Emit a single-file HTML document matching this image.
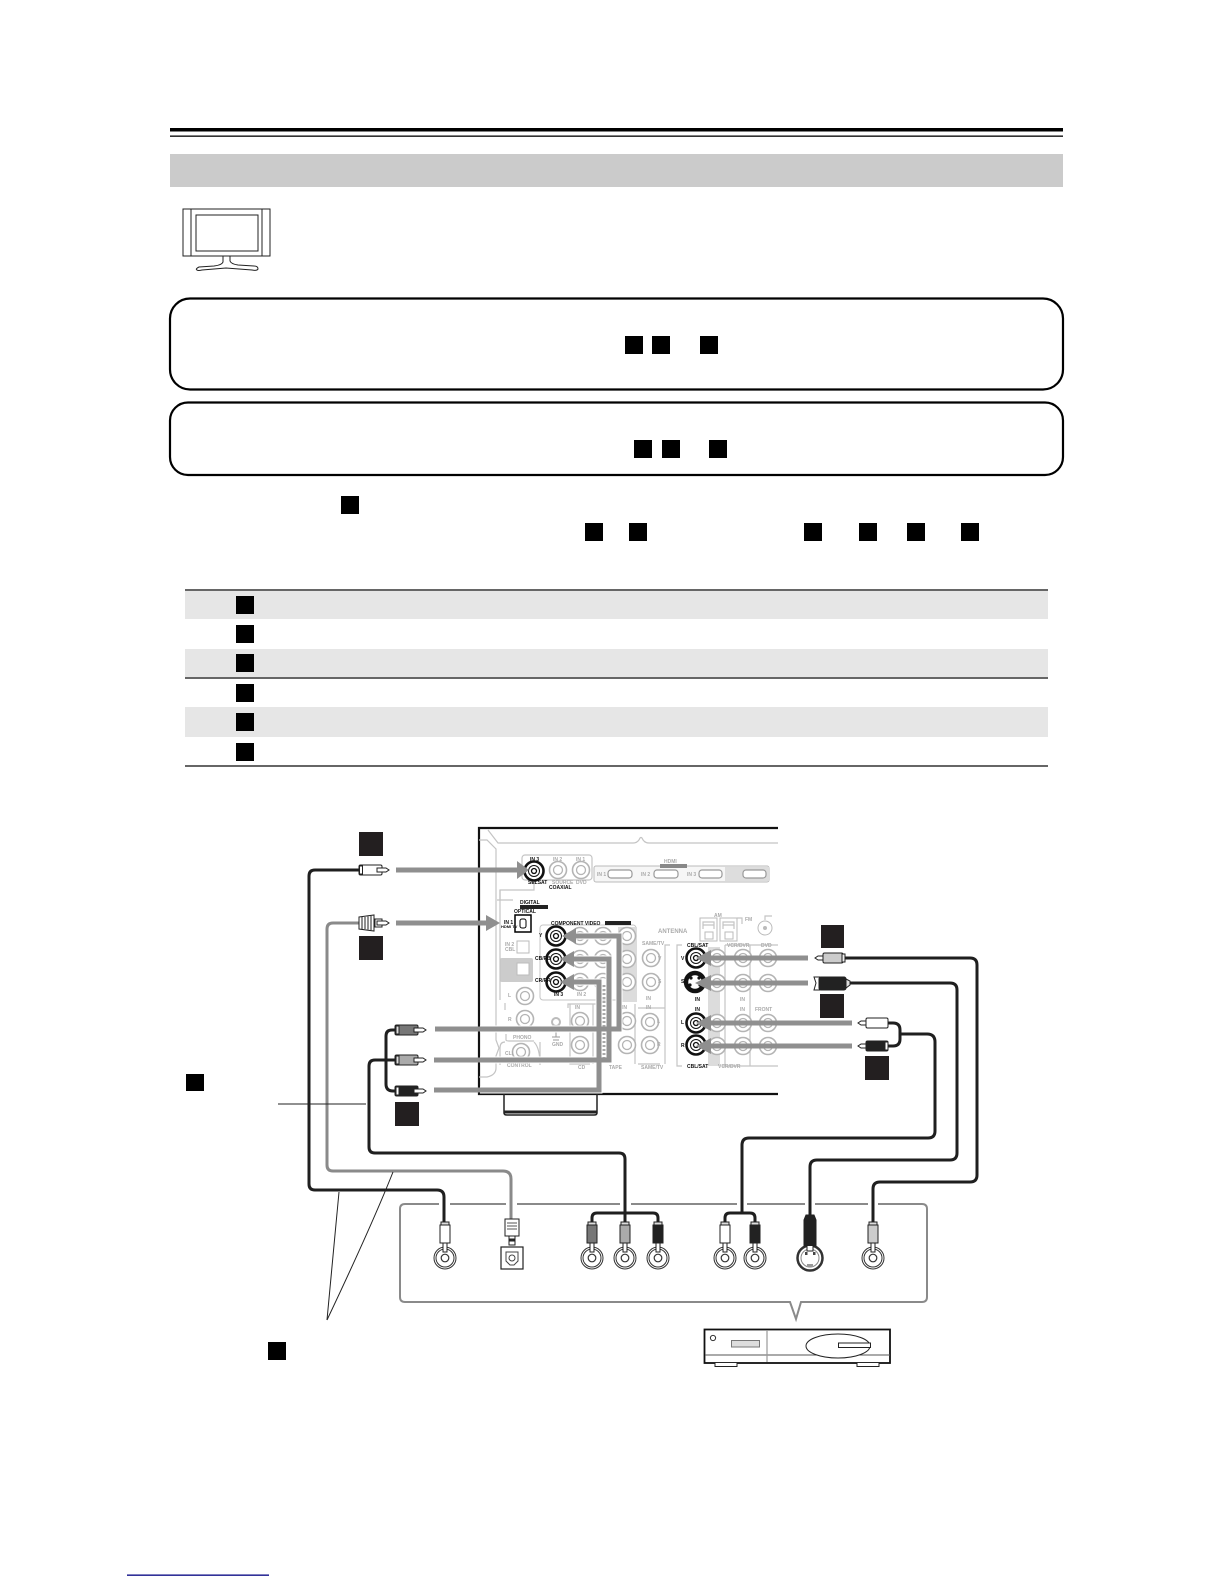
<!DOCTYPE html>
<html lang="en">
<head>
<meta charset="utf-8">
<title>Connection diagram</title>
<style>
html,body{margin:0;padding:0;background:#fff;width:1224px;height:1584px;overflow:hidden}
svg{display:block}
text{font-family:"Liberation Sans",sans-serif}
.l{font-size:5px;fill:#aaa;font-weight:bold}
.b{font-size:5px;fill:#111;font-weight:bold}
.c{fill:none;stroke:#1f1f1f;stroke-width:3}
.g{fill:none;stroke:#8a8a8a;stroke-width:3}
.a{fill:none;stroke:#8f8f8f;stroke-width:5}
.p{fill:none;stroke:#c4c4c4;stroke-width:1.2}
</style>
</head>
<body>
<svg width="1224" height="1584" viewBox="0 0 1224 1584" xmlns="http://www.w3.org/2000/svg">
<defs>
  <g id="gj"><circle r="8.500" fill="#fff" stroke="#b4b4b4" stroke-width="1.600"/><circle r="4.500" fill="none" stroke="#b4b4b4" stroke-width="1.300"/></g>
  <g id="bj"><circle r="9.500" fill="#fff" stroke="#111" stroke-width="2.600"/><circle r="5.500" fill="none" stroke="#111" stroke-width="1"/><circle r="2.500" fill="#fff" stroke="#111" stroke-width="1.300"/></g>
  <g id="dj"><circle r="11" fill="#fff" stroke="#333" stroke-width="1"/><circle r="9" fill="#fff" stroke="#333" stroke-width="1"/><circle r="3.800" fill="#fff" stroke="#333" stroke-width="1.200"/></g>
  <g id="tip"><path d="M0,-2 H9 L12,0 L9,2 H0 Z" fill="#fff" stroke="#222" stroke-width="1"/></g>
</defs>

<!-- header -->
<rect x="170" y="128" width="893" height="3.500" fill="#000"/>
<rect x="170" y="135.500" width="893" height="1.300" fill="#000"/>
<rect x="170" y="154" width="893" height="33" fill="#cbcbcb"/>

<!-- TV -->
<g fill="none" stroke="#222" stroke-width="1">
  <rect x="183" y="209" width="87" height="47"/>
  <path d="M191,209V256M262,209V256"/>
  <rect x="196" y="215" width="62" height="36"/>
  <path d="M223,256 V262 Q222,265 214,266 L199,267 Q195,269 197,270 Q198,271 202,270 L226,268 L252,270 Q257,271 258,269 Q258,266 254,266 L238,265 Q231,264 230,261 V256"/>
</g>

<!-- rounded boxes -->
<rect x="170" y="298.500" width="893" height="91" rx="20" fill="#fff" stroke="#000" stroke-width="2.200"/>
<rect x="170" y="402.500" width="893" height="72.500" rx="18" fill="#fff" stroke="#000" stroke-width="2.200"/>
<g fill="#000">
  <rect x="625" y="336" width="18" height="18"/><rect x="652" y="336" width="18" height="18"/><rect x="700" y="336" width="18" height="18"/>
  <rect x="634" y="440" width="18" height="18"/><rect x="662" y="440" width="18" height="18"/><rect x="709" y="440" width="18" height="18"/>
  <rect x="341" y="496" width="18" height="18"/>
  <rect x="585" y="523" width="18" height="18"/><rect x="629" y="523" width="18" height="18"/><rect x="804" y="523" width="18" height="18"/>
  <rect x="859" y="523" width="18" height="18"/><rect x="907" y="523" width="18" height="18"/><rect x="961" y="523" width="18" height="18"/>
</g>

<!-- table -->
<rect x="185" y="591" width="863" height="28" fill="#e6e6e6"/>
<rect x="185" y="649" width="863" height="28" fill="#e6e6e6"/>
<rect x="185" y="707" width="863" height="30" fill="#e6e6e6"/>
<rect x="185" y="589" width="863" height="2" fill="#666"/>
<rect x="185" y="677" width="863" height="2" fill="#666"/>
<rect x="185" y="765" width="863" height="2" fill="#666"/>
<g fill="#000">
  <rect x="236" y="596" width="18" height="18"/><rect x="236" y="625" width="18" height="18"/><rect x="236" y="654" width="18" height="18"/>
  <rect x="236" y="684" width="18" height="18"/><rect x="236" y="713" width="18" height="18"/><rect x="236" y="743" width="18" height="18"/>
</g>

<!-- receiver frame -->
<path d="M778,828 H479 V1094 H778" fill="none" stroke="#111" stroke-width="2.200"/>
<path d="M504,1094 V1113 Q504,1115 507,1115 H594 Q597,1115 597,1113 V1094" fill="none" stroke="#222" stroke-width="1.500"/>
<path d="M504,1112 H597" stroke="#222" stroke-width="3"/>

<!-- panel outlines -->
<path class="p" d="M488,830 L498,843 H633 Q638,843 640,838 Q641,837 642,838 Q644,843 649,843 H778"/>
<path class="p" d="M479,840 H487 L496,849 V1040 L499,1048 L496,1056 V1068 Q496,1075 487,1077 H479"/>
<rect class="p" x="522" y="855" width="70" height="25" rx="3"/>
<path class="p" d="M500,900 V890 H534 V880"/>
<rect x="594" y="866" width="175" height="16" rx="2" fill="#f6f6f6" stroke="#bbb"/>
<rect x="725" y="867" width="44" height="14" fill="#ddd"/>
<g fill="#fff" stroke="#999" stroke-width="1.200">
  <rect x="608" y="870" width="24" height="8" rx="3"/><rect x="654" y="870" width="24" height="8" rx="3"/>
  <rect x="699" y="870" width="23" height="8" rx="3"/><rect x="743" y="870" width="23" height="8" rx="3"/>
</g>
<rect x="660" y="864" width="27" height="4" fill="#888"/>
<text class="l" x="664" y="863">HDMI</text>
<text class="l" x="597" y="876">IN 1</text><text class="l" x="641" y="876">IN 2</text><text class="l" x="687" y="876">IN 3</text>
<rect x="540" y="925" width="96" height="75" rx="3" fill="none" stroke="#c4c4c4"/>
<rect x="618" y="927" width="19" height="75" fill="#dcdcdc"/>
<rect x="500" y="958" width="33" height="24" rx="2" fill="#ccc"/>
<rect x="708" y="947" width="12" height="119" fill="#dcdcdc"/>
<path class="p" d="M497,900 H513 M500,890 V1000"/>
<path class="p" d="M505,1003 V1010 M506,1034 V1040 Q506,1041 510,1041 H534 M505,1042 Q500,1042 500,1048 V1065 M540,1042 V1065 Q540,1048 534,1042"/>
<path class="p" d="M568,1008 V1004 H600 M570,1004 V1064 H590 M593,1004 V1064 M635,1004 V1064 M638,1008 H665 M638,1064 H660 M670,945 H665 V1064"/>
<path class="p" d="M682,945 H677 V1066 H682 M725,945 H770 M725,945 V1066 M750,945 V1066 M778,945 H770 M722,1066 H778"/>
<rect x="700" y="918" width="17" height="23" fill="none" stroke="#bbb"/>
<rect x="720" y="918" width="17" height="23" fill="none" stroke="#bbb"/>
<rect x="705" y="932" width="8" height="7" fill="none" stroke="#bbb"/><rect x="725" y="932" width="8" height="7" fill="none" stroke="#bbb"/>
<path class="p" d="M703,929 V922 H714 V929 M723,929 V922 H734 V929 M703,925 H714 M723,925 H734 M737,918 H742 V924"/>
<path class="p" d="M765,920 V916 H772"/>
<circle cx="765" cy="928" r="7" fill="#fff" stroke="#bbb"/><circle cx="765" cy="928" r="2" fill="#bbb"/>

<!-- gray jacks -->
<g>
  <use href="#gj" x="558" y="870"/><use href="#gj" x="581" y="870"/>
  <use href="#gj" x="580" y="936"/><use href="#gj" x="603" y="936"/><use href="#gj" x="627" y="936"/>
  <use href="#gj" x="580" y="959"/><use href="#gj" x="603" y="959"/><use href="#gj" x="627" y="959"/>
  <use href="#gj" x="580" y="982"/><use href="#gj" x="603" y="982"/><use href="#gj" x="627" y="982"/>
  <use href="#gj" x="651" y="958"/><use href="#gj" x="651" y="982"/>
  <use href="#gj" x="525" y="996"/><use href="#gj" x="525" y="1019"/><use href="#gj" x="521" y="1052"/>
  <use href="#gj" x="580" y="1021"/><use href="#gj" x="580" y="1045"/>
  <use href="#gj" x="627" y="1021"/><use href="#gj" x="627" y="1045"/>
  <use href="#gj" x="650" y="1022"/><use href="#gj" x="650" y="1045"/>
  <use href="#gj" x="717" y="958"/><use href="#gj" x="743" y="958"/><use href="#gj" x="768" y="958"/>
  <use href="#gj" x="717" y="983"/><use href="#gj" x="743" y="983"/><use href="#gj" x="768" y="983"/>
  <use href="#gj" x="717" y="1023"/><use href="#gj" x="743" y="1023"/><use href="#gj" x="768" y="1023"/>
  <use href="#gj" x="717" y="1046"/><use href="#gj" x="743" y="1046"/><use href="#gj" x="768" y="1046"/>
</g>
<circle cx="556" cy="1022" r="4" fill="none" stroke="#bbb" stroke-width="2"/>
<path d="M552,1037 H560 M556,1032 V1037 M553,1040 H559" stroke="#999" fill="none"/>
<g fill="#fff" stroke="#bbb"><rect x="517" y="941" width="12" height="12"/><rect x="517" y="963" width="12" height="12"/></g>

<!-- black jacks -->
<use href="#bj" x="534" y="871"/>
<use href="#bj" x="556" y="936"/><use href="#bj" x="556" y="959"/><use href="#bj" x="556" y="982"/>
<use href="#bj" x="696" y="958"/><use href="#bj" x="696" y="1023"/><use href="#bj" x="696" y="1045"/>
<circle cx="695" cy="982" r="9" fill="#fff" stroke="#111" stroke-width="4.500"/>
<circle cx="691" cy="978" r="1.600" fill="#111"/><circle cx="699" cy="978" r="1.600" fill="#111"/>
<circle cx="690" cy="985" r="1.600" fill="#111"/><circle cx="700" cy="985" r="1.600" fill="#111"/>
<rect x="515" y="915" width="16" height="17" fill="#fff" stroke="#000" stroke-width="1.500"/>
<rect x="520" y="919" width="6" height="9" rx="2" fill="none" stroke="#000"/>

<!-- panel labels -->
<text class="b" x="530" y="861">IN 3</text>
<text class="l" x="553" y="861">IN 2</text><text class="l" x="576" y="861">IN 1</text>
<text class="b" x="528" y="884">SELSAT</text><text class="l" x="552" y="884">SOURCE</text><text class="l" x="576" y="884">DVD</text>
<text class="b" x="549" y="889">COAXIAL</text>
<text class="b" x="520" y="904">DIGITAL</text>
<rect x="520" y="905" width="28" height="4" fill="#222"/>
<text class="b" x="514" y="913">OPTICAL</text>
<text class="b" x="504" y="924">IN 1</text>
<text class="b" x="501" y="928" style="font-size:4px">HDMI TV</text>
<text class="l" x="505" y="946">IN 2</text><text class="l" x="505" y="951">CBL</text>
<text class="b" x="551" y="925">COMPONENT VIDEO</text>
<rect x="605" y="921" width="26" height="4" fill="#222"/>
<text class="b" x="539" y="937">Y</text><text class="b" x="535" y="960">CB/PB</text><text class="b" x="535" y="982">CR/PR</text>
<text class="b" x="554" y="996">IN 3</text><text class="l" x="577" y="996">IN 2</text>
<text class="l" x="642" y="945">SAME/TV</text><text class="l" x="658" y="960">V</text><text class="l" x="658" y="983">S</text><text class="l" x="646" y="1000">IN</text>
<text class="l" x="657" y="1023">L</text><text class="l" x="657" y="1046">R</text>
<text class="l" x="508" y="997">L</text><text class="l" x="508" y="1021">R</text>
<text class="l" x="513" y="1039">PHONO</text><text class="l" x="505" y="1055">CLI</text>
<text class="l" x="507" y="1067">CONTROL</text><text class="l" x="552" y="1046">GND</text>
<text class="l" x="575" y="1009">IN</text><text class="l" x="622" y="1009">IN</text><text class="l" x="646" y="1009">IN</text>
<text class="l" x="578" y="1069">CD</text><text class="l" x="609" y="1069">TAPE</text><text class="l" x="641" y="1069">SAME/TV</text>
<text class="l" x="658" y="933" style="font-size:6px">ANTENNA</text>
<text class="l" x="714" y="917">AM</text><text class="l" x="745" y="921">FM</text>
<text class="b" x="687" y="947">CBL/SAT</text>
<text class="l" x="727" y="947">VCR/DVR</text><text class="l" x="761" y="947">DVD</text>
<text class="b" x="681" y="960">V</text><text class="b" x="681" y="983">S</text><text class="b" x="681" y="1024">L</text><text class="b" x="681" y="1047">R</text>
<text class="b" x="695" y="1001">IN</text><text class="b" x="695" y="1011">IN</text>
<text class="l" x="740" y="1001">IN</text><text class="l" x="740" y="1011">IN</text><text class="l" x="755" y="1011">FRONT</text>
<text class="b" x="687" y="1068">CBL/SAT</text><text class="l" x="718" y="1068">VCR/DVR</text>

<!-- gray arrows with white halo -->
<g fill="none" stroke="#fff" stroke-width="7">
  <path d="M575,936 H619 V1029 H480"/><path d="M573,959 H609 V1060 H480"/><path d="M573,982 H599 V1090 H480"/>
</g>
<path d="M604,985 V1058" stroke="#a8a8a8" stroke-width="3" stroke-dasharray="2 2" fill="none"/>
<g class="a">
  <path class="a" d="M396,870 H518"/>
  <path class="a" d="M396,923 H487"/>
  <path class="a" d="M435,1029 H619 V936 H574"/>
  <path class="a" d="M434,1060 H609 V959 H572"/>
  <path class="a" d="M434,1090 H599 V982 H572"/>
  <path class="a" d="M808,958 H709"/>
  <path class="a" d="M808,983 H709"/>
  <path class="a" d="M852,1023 H709"/>
  <path class="a" d="M852,1046 H709"/>
</g>
<g fill="#8f8f8f">
  <path d="M517,861 L529,870 L517,879Z"/>
  <path d="M486,915 L500,923 L486,931Z"/>
  <path d="M576,928 L562,936 L576,944Z"/><path d="M574,951 L560,959 L574,967Z"/><path d="M574,974 L560,982 L574,990Z"/>
  <path d="M711,950 L696,958 L711,966Z"/><path d="M711,975 L695,983 L711,991Z"/>
  <path d="M711,1015 L696,1023 L711,1031Z"/><path d="M711,1038 L696,1046 L711,1054Z"/>
</g>

<!-- cables -->
<path class="c" d="M359,870 H315 Q309,870 309,876 V1184 Q309,1190 315,1190 H437 Q444,1190 444,1197 V1223"/>
<path class="g" d="M359,923 H333 Q327,923 327,929 V1165 Q327,1171 333,1171 H503 Q511,1171 511,1179 V1219"/>
<path class="c" d="M395,1030 H392 Q386,1030 386,1036 V1084 Q386,1091 393,1091 H395"/>
<path class="c" d="M395,1060 H375 Q369,1060 369,1066 V1147 Q369,1153 375,1153 H619 Q625,1153 625,1159 V1222"/>
<path class="c" d="M845,958 H970 Q977,958 977,965 V1175 Q977,1182 970,1182 H880 Q873,1182 873,1189 V1222"/>
<path class="c" d="M850,983 H950 Q957,983 957,990 V1153 Q957,1160 950,1160 H817 Q810,1160 810,1167 V1215"/>
<path class="c" d="M888,1023 H893 Q900,1023 900,1030 V1039 Q900,1046 893,1046 H888"/>
<path class="c" d="M900,1034 H927 Q935,1034 935,1042 V1131 Q935,1138 928,1138 H749 Q742,1138 742,1145 V1212"/>

<!-- callout frame -->
<path d="M405,1204 H922 Q927,1204 927,1209 V1297 Q927,1302 922,1302 H801 L796,1319 L790,1302 H405 Q400,1302 400,1297 V1209 Q400,1204 405,1204Z" fill="none" stroke="#8a8a8a" stroke-width="2"/>
<g fill="#fff">
  <rect x="439" y="1203" width="11" height="3"/><rect x="506" y="1203" width="11" height="3"/><rect x="620" y="1203" width="11" height="3"/>
  <rect x="737" y="1203" width="10" height="3"/><rect x="805" y="1203" width="10" height="3"/><rect x="868" y="1203" width="10" height="3"/>
</g>
<path class="c" d="M444,1197 V1223"/><path class="g" d="M511,1196 V1219"/><path class="c" d="M625,1190 V1222"/>
<path class="c" d="M742,1190 V1212"/><path class="c" d="M810,1190 V1215"/><path class="c" d="M873,1190 V1222"/>
<path class="c" d="M592,1222 V1218 Q592,1213 597,1213 H653 Q658,1213 658,1218 V1222"/>
<path class="c" d="M725,1222 V1218 Q725,1213 730,1213 H750 Q755,1213 755,1218 V1222"/>

<!-- thin leader lines -->
<path d="M278,1104 H366" stroke="#222" stroke-width="1" fill="none"/>
<path d="M339,1192 L327,1320" stroke="#222" stroke-width="1" fill="none"/>
<path d="M393,1172 Q372,1225 327,1320" stroke="#222" stroke-width="1" fill="none"/>

<!-- bottom device jacks -->
<use href="#dj" x="445" y="1258"/><use href="#dj" x="592" y="1258"/><use href="#dj" x="625" y="1258"/><use href="#dj" x="658" y="1258"/>
<use href="#dj" x="725" y="1258"/><use href="#dj" x="755" y="1258"/><use href="#dj" x="873" y="1258"/>
<circle cx="810" cy="1258" r="12.500" fill="#fff" stroke="#333" stroke-width="2.500"/>
<circle cx="810" cy="1258" r="9" fill="none" stroke="#888"/>
<rect x="805" y="1252" width="2.500" height="3" fill="#444"/><rect x="813" y="1252" width="2.500" height="3" fill="#444"/>
<rect x="807" y="1264" width="6" height="3" fill="#999"/>
<rect x="501" y="1247" width="22" height="22" fill="#fff" stroke="#222" stroke-width="1.200"/>
<path d="M506,1252 H518 V1261 L514,1265 H510 L506,1261Z" fill="#fff" stroke="#444"/>
<circle cx="512" cy="1258" r="3" fill="#fff" stroke="#444"/>

<!-- bottom plugs -->
<g stroke="#222" stroke-width="1">
  <g fill="#fff"><path d="M443,1243 H447 V1252 H443Z M590,1243 H594 V1252 H590Z M623,1243 H627 V1252 H623Z M656,1243 H660 V1252 H656Z M723,1243 H727 V1252 H723Z M753,1243 H757 V1252 H753Z M871,1243 H875 V1252 H871Z"/></g>
  <rect x="440" y="1225" width="10" height="18" fill="#fff"/>
  <rect x="587" y="1225" width="10" height="18" fill="#777"/>
  <rect x="620" y="1225" width="10" height="18" fill="#aaa"/>
  <rect x="653" y="1225" width="10" height="18" fill="#222"/>
  <rect x="720" y="1225" width="10" height="18" fill="#fff"/>
  <rect x="750" y="1225" width="10" height="18" fill="#222"/>
  <rect x="868" y="1225" width="10" height="18" fill="#ccc"/>
  <g fill="#ddd"><rect x="441" y="1222" width="8" height="3"/><rect x="588" y="1222" width="8" height="3"/><rect x="621" y="1222" width="8" height="3"/><rect x="654" y="1222" width="8" height="3"/><rect x="721" y="1222" width="8" height="3"/><rect x="751" y="1222" width="8" height="3"/><rect x="869" y="1222" width="8" height="3"/></g>
  <path d="M806,1215 H814 L816,1220 V1246 H804 V1220Z" fill="#222"/>
  <path d="M807,1246 V1251 H813 V1246" fill="#fff"/>
  <rect x="505" y="1219" width="14" height="17" fill="#fff"/>
  <path d="M507,1223 H517 M507,1226 H517 M507,1229 H517" fill="none" stroke="#555"/>
  <rect x="509" y="1236" width="6" height="9" fill="#fff"/>
  <rect x="510" y="1239" width="4" height="2" fill="#333"/>
</g>

<!-- left plugs -->
<g stroke="#222" stroke-width="1">
  <rect x="359" y="865" width="23" height="10" rx="1.500" fill="#fff"/><rect x="359.500" y="866" width="3" height="8" fill="#fff"/>
  <use href="#tip" x="377" y="870"/>
  <path d="M359,917 L374,915 V931 L359,929Z" fill="#fff"/>
  <path d="M362,917 V929 M365,917 V929 M368,916.500 V929.500 M371,916 V930" fill="none"/>
  <rect x="375" y="919" width="7" height="8" fill="#fff"/>
  <rect x="377" y="921" width="3" height="4" fill="#222"/>
  <use href="#tip" x="377" y="923"/>
  <rect x="395" y="1025" width="23" height="10" rx="1.500" fill="#777"/><rect x="396" y="1026" width="3" height="8" fill="#ddd"/>
  <use href="#tip" x="414" y="1030"/>
  <rect x="395" y="1055" width="23" height="10" rx="1.500" fill="#aaa"/><rect x="396" y="1056" width="3" height="8" fill="#ddd"/>
  <use href="#tip" x="414" y="1060"/>
  <rect x="395" y="1086" width="23" height="10" rx="1.500" fill="#222"/><rect x="396" y="1087" width="3" height="8" fill="#fff"/>
  <use href="#tip" x="414" y="1091"/>
</g>

<!-- right plugs -->
<g stroke="#222" stroke-width="1">
  <use href="#tip" transform="translate(827,958) scale(-1,1)"/>
  <rect x="823" y="953" width="20" height="10" rx="1.500" fill="#ccc"/><rect x="842" y="954" width="3" height="8" fill="#eee"/>
  <path d="M814,977 H820 L822,979 V989 L820,990 H814 L816,983Z" fill="#fff"/>
  <rect x="819" y="977" width="27" height="13" rx="2" fill="#222"/><path d="M846,979 L850,981 V985 L846,988Z" fill="#ddd"/>
  <use href="#tip" transform="translate(870,1023) scale(-1,1)"/>
  <rect x="866" y="1018" width="22" height="10" rx="1.500" fill="#fff"/>
  <use href="#tip" transform="translate(870,1046) scale(-1,1)"/>
  <rect x="866" y="1041" width="22" height="10" rx="1.500" fill="#222"/><rect x="885" y="1042" width="3" height="8" fill="#fff"/>
</g>

<!-- diagram labels squares -->
<g fill="#231f20">
  <rect x="359" y="832" width="24" height="24"/><rect x="359" y="936" width="24" height="24"/>
  <rect x="395" y="1102" width="24" height="24"/>
  <rect x="821" y="925" width="23" height="23"/><rect x="820" y="994" width="24" height="24"/>
  <rect x="865" y="1056" width="24" height="24"/>
</g>
<rect x="186" y="1074" width="18" height="17" fill="#000"/>
<rect x="268" y="1342" width="18" height="18" fill="#000"/>

<!-- source device -->
<rect x="704.500" y="1329.500" width="185.500" height="33.500" fill="#fff" stroke="#111" stroke-width="1.800"/>
<path d="M705,1355 H890" stroke="#555" fill="none"/>
<path d="M767,1330 V1362" stroke="#999" fill="none" stroke-width="1.200"/>
<circle cx="713" cy="1338" r="2.600" fill="#fff" stroke="#333" stroke-width="1"/>
<rect x="731.500" y="1340.500" width="28" height="6.500" fill="#ddd" stroke="#777"/>
<ellipse cx="838" cy="1346" rx="32" ry="12" fill="#fff" stroke="#222"/>
<rect x="838.500" y="1343" width="32" height="4.500" fill="#fff" stroke="#222"/>
<path d="M715,1363 V1366.500 H737 V1363 M857,1363 V1366.500 H879 V1363" fill="#fff" stroke="#222"/>

<!-- bottom link rule -->
<rect x="127" y="1574.500" width="142" height="1.300" fill="#000080"/>
</svg>
</body>
</html>
